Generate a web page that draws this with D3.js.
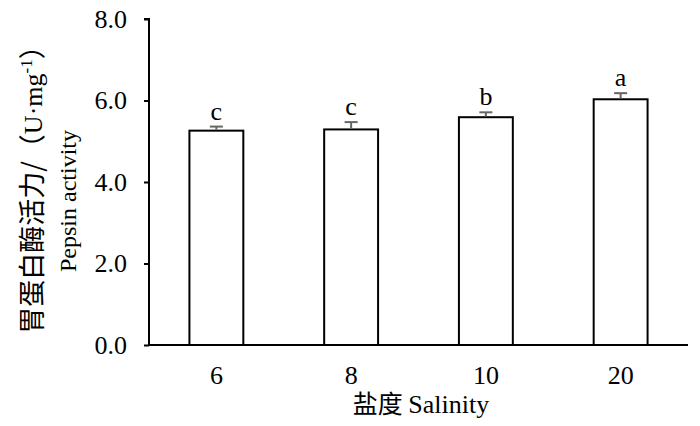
<!DOCTYPE html>
<html><head><meta charset="utf-8">
<script src="https://cdn.jsdelivr.net/npm/d3@7"></script>
<style>body{margin:0;background:#fff}</style>
</head><body>
<script>
const categories = ["6", "8", "10", "20"];
const values = [5.26, 5.29, 5.59, 6.03];
const errors = [0.10, 0.18, 0.12, 0.15];
const letters = ["c", "c", "b", "a"];
const yTicks = [0, 2, 4, 6, 8];

const W = 700, H = 426;
const m = {left: 149, right: 12, top: 19, bottom: 81};
const svg = d3.select("body").append("svg").attr("width", W).attr("height", H);
const serif = "'Liberation Serif','Times New Roman',serif";
const cjk = "'Noto Sans CJK SC','Liberation Serif',serif";
const FS = 26;

const x = d3.scaleBand().domain(categories).range([m.left, W - m.right])
  .paddingInner(0.6).paddingOuter(0.3);
const y = d3.scaleLinear().domain([0, 8]).range([H - m.bottom, m.top]);

// bars
svg.selectAll("rect.bar").data(categories).join("rect")
  .attr("x", d => x(d)).attr("width", x.bandwidth())
  .attr("y", (d, i) => y(values[i])).attr("height", (d, i) => y(0) - y(values[i]))
  .attr("fill", "#fff").attr("stroke", "#000").attr("stroke-width", 2);

// error bars
const eg = svg.append("g").attr("stroke", "#666").attr("stroke-width", 2);
categories.forEach((c, i) => {
  const cx = x(c) + x.bandwidth() / 2;
  eg.append("line").attr("x1", cx).attr("x2", cx)
    .attr("y1", y(values[i]) - 1).attr("y2", y(values[i] + errors[i]));
  eg.append("line").attr("x1", cx - 6.5).attr("x2", cx + 6.5)
    .attr("y1", y(values[i] + errors[i])).attr("y2", y(values[i] + errors[i]));
  svg.append("text").attr("x", cx).attr("y", y(values[i] + errors[i]) - 7)
    .attr("text-anchor", "middle").attr("font-family", serif).attr("font-size", FS)
    .text(letters[i]);
});

// y axis
const ya = svg.append("g").attr("transform", `translate(${m.left},0)`)
  .call(d3.axisLeft(y).tickValues(yTicks).tickFormat(d3.format(".1f")).tickSize(5).tickPadding(17));
ya.select(".domain").attr("stroke-width", 2).attr("d", `M-5,${y(8)}H0V${y(0)}`);
ya.selectAll(".tick line").attr("stroke-width", 2);
ya.selectAll(".tick text").attr("font-family", serif).attr("font-size", FS).attr("fill", "#000");

// x axis
const xa = svg.append("g").attr("transform", `translate(0,${y(0)})`)
  .call(d3.axisBottom(x).tickSize(0).tickPadding(21));
xa.select(".domain").attr("stroke-width", 2).attr("d", `M${m.left},0H${W - m.right}`);
xa.selectAll(".tick text").attr("font-family", serif).attr("font-size", FS).attr("fill", "#000");

// x title
const xt = svg.append("text").attr("x", 421).attr("y", 413).attr("text-anchor", "middle")
  .attr("font-size", FS).attr("fill", "#000");
xt.append("tspan").attr("font-family", cjk).attr("font-size", 25).text("盐度 ");
xt.append("tspan").attr("font-family", serif).text("Salinity");

// y title
const yt1 = svg.append("text").attr("transform", "translate(42,183) rotate(-90)")
  .attr("text-anchor", "middle").attr("font-size", 27).attr("fill", "#000");
yt1.append("tspan").attr("font-family", cjk).text("胃蛋白酶活力/（");
yt1.append("tspan").attr("font-family", serif).attr("font-size", FS).text("U·mg");
yt1.append("tspan").attr("font-family", serif).attr("font-size", 17).attr("dy", -10).text("-1");
yt1.append("tspan").attr("font-family", cjk).attr("dy", 10).text("）");
svg.append("text").attr("transform", "translate(76,201) rotate(-90)")
  .attr("text-anchor", "middle").attr("font-family", serif).attr("font-size", 24)
  .attr("fill", "#000").text("Pepsin activity");
</script>
</body></html>
